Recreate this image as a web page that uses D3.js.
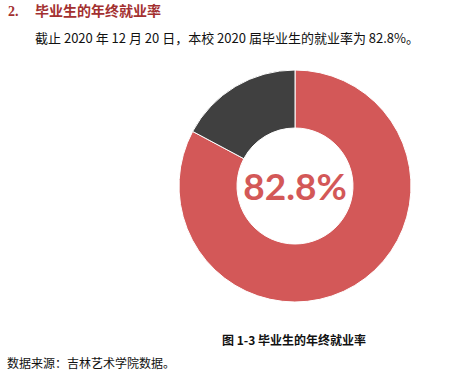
<!DOCTYPE html>
<html>
<head>
<meta charset="utf-8">
<script src="https://cdn.jsdelivr.net/npm/d3@7"></script>
<style>
  body { margin: 0; background: #fff; }
  svg { display: block; }
</style>
</head>
<body>
<script>
const width = 456;
const height = 388;

// data
const categories = ["就业", "未就业"];
const rates = [82.8, 17.2];
const colors = ["#D35858", "#404040"];
const centerLabel = "82.8%";

const headingNum = "2.";
const heading = "毕业生的年终就业率";
const intro = "截止 2020 年 12 月 20 日，本校 2020 届毕业生的就业率为 82.8%。";
const caption = "图 1-3  毕业生的年终就业率";
const source = "数据来源：吉林艺术学院数据。";

const cjk = "'Noto Sans CJK SC', 'Noto Sans', sans-serif";

const svg = d3.select("body").append("svg")
  .attr("width", width)
  .attr("height", height);

// heading
svg.append("text")
  .attr("x", 8).attr("y", 16)
  .style("font-family", "'Liberation Serif', serif")
  .style("font-weight", "bold")
  .style("font-size", "14px")
  .style("fill", "#A33030")
  .text(headingNum);

svg.append("text")
  .attr("x", 35).attr("y", 16)
  .style("font-family", cjk)
  .style("font-weight", "bold")
  .style("font-size", "14px")
  .style("fill", "#A33030")
  .text(heading);

svg.append("text")
  .attr("x", 35).attr("y", 43)
  .style("font-family", cjk)
  .style("font-size", "13px")
  .style("fill", "#111")
  .text(intro);

// donut
const cx = 295, cy = 186, outerR = 116, innerR = 58;

const pie = d3.pie().sort(null).value(d => d);
const arc = d3.arc().innerRadius(innerR).outerRadius(outerR);

const g = svg.append("g").attr("transform", `translate(${cx},${cy})`);

g.selectAll("path")
  .data(pie(rates))
  .enter().append("path")
  .attr("d", arc)
  .attr("fill", (d, i) => colors[i])
  .attr("stroke", "#fff")
  .attr("stroke-width", 1);

g.append("text")
  .attr("text-anchor", "middle")
  .attr("y", 14)
  .style("font-family", "Lato, 'Open Sans', sans-serif")
  .style("font-weight", "bold")
  .style("font-size", "37px")
  .style("fill", colors[0])
  .text(centerLabel);

// caption
svg.append("text")
  .attr("x", 222).attr("y", 345)
  .style("font-family", cjk)
  .style("font-weight", "bold")
  .style("font-size", "12px")
  .style("fill", "#111")
  .text(caption);

svg.append("text")
  .attr("x", 7).attr("y", 368)
  .style("font-family", cjk)
  .style("font-size", "12px")
  .style("fill", "#111")
  .text(source);
</script>
</body>
</html>
